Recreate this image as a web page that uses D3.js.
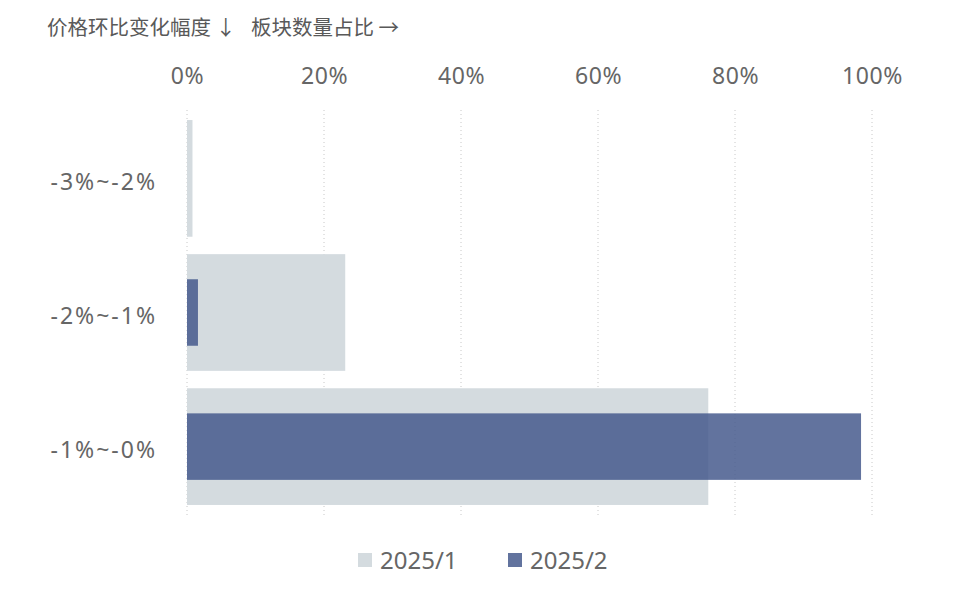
<!DOCTYPE html>
<html><head><meta charset="utf-8">
<script src="https://cdn.jsdelivr.net/npm/d3@7"></script>
<style>body{margin:0;background:#fff;}svg{display:block;font-family:"Noto Sans CJK SC","Noto Sans",sans-serif;}</style>
</head><body>
<svg id="c" width="977" height="605"></svg>
<script>
const categories = ["-3%~-2%", "-2%~-1%", "-1%~-0%"];
const series1 = [0.8, 23.1, 76.1];   // 2025/1
const series2 = [0, 1.6, 98.4];      // 2025/2
const ticks = [0, 20, 40, 60, 80, 100];
const seriesNames = ["2025/1", "2025/2"];
const colors = ["#d4dbdf", "#42578a"];

const svg = d3.select("#c");
const x = d3.scaleLinear().domain([0, 100]).range([187, 872]);
const y = d3.scaleBand().domain(categories).range([112, 513]).paddingInner(0.13).paddingOuter(0.06);

// title
svg.append("text").attr("x", 47).attr("y", 35).attr("font-size", 20.5).attr("fill", "#595959")
  .text("价格环比变化幅度 ↓");
svg.append("text").attr("x", 251).attr("y", 35).attr("font-size", 20.5).attr("fill", "#595959")
  .text("板块数量占比 →");

// grid
svg.append("g").selectAll("line").data(ticks).join("line")
  .attr("x1", d => x(d)).attr("x2", d => x(d)).attr("y1", 110).attr("y2", 515)
  .attr("stroke", "#c8c8c8").attr("stroke-dasharray", "1,3").attr("stroke-width", 1);

// top axis labels
const ax = svg.append("g").attr("transform", "translate(0,84)")
  .call(d3.axisTop(x).tickValues(ticks).tickFormat(d => d + "%").tickSize(0).tickPadding(0));
ax.select(".domain").remove();
ax.selectAll("text").attr("font-size", 23).attr("letter-spacing", 0.6).attr("fill", "#666").attr("font-family", "'Noto Sans', sans-serif");

// light bars
svg.append("g").selectAll("rect").data(series1).join("rect")
  .attr("x", x(0)).attr("y", (d, i) => y(categories[i]))
  .attr("width", d => x(d) - x(0)).attr("height", y.bandwidth())
  .attr("fill", colors[0]);

// dark bars
const inner = y.bandwidth() * 0.57;
svg.append("g").selectAll("rect").data(series2).join("rect")
  .attr("x", x(0)).attr("y", (d, i) => y(categories[i]) + (y.bandwidth() - inner) / 2)
  .attr("width", d => x(d) - x(0)).attr("height", inner)
  .attr("fill", colors[1]).attr("fill-opacity", 0.83);

// category labels
svg.append("g").selectAll("text").data(categories).join("text")
  .attr("x", 157).attr("y", d => y(d) + y.bandwidth() / 2 + 5)
  .attr("text-anchor", "end").attr("dominant-baseline", "middle")
  .attr("font-size", 23).attr("letter-spacing", 2).attr("fill", "#666").attr("font-family", "'Noto Sans', sans-serif")
  .text(d => d);

// legend
const lg = svg.append("g").attr("font-family", "'Noto Sans', sans-serif");
const lx = [358, 508];
seriesNames.forEach((n, i) => {
  lg.append("rect").attr("x", lx[i]).attr("y", 553).attr("width", 14).attr("height", 14)
    .attr("fill", colors[i]).attr("fill-opacity", i === 1 ? 0.83 : 1);
  lg.append("text").attr("x", lx[i] + 22).attr("y", 569).attr("font-size", 24).attr("fill", "#666").text(n);
});
</script>
</body></html>
